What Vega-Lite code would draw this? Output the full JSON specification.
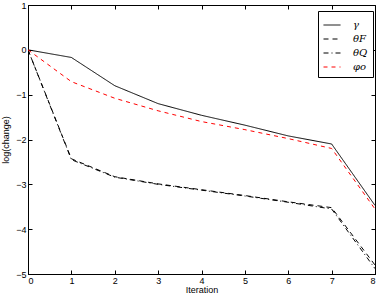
{
  "$schema": "https://vega.github.io/schema/vega-lite/v6.json",
  "width": 347,
  "height": 269,
  "autosize": {"type": "none"},
  "padding": {"left": 28, "top": 5, "right": 1, "bottom": 22},
  "background": "white",
  "config": {
    "view": {"stroke": "black", "strokeWidth": 1},
    "font": "Liberation Sans",
    "axis": {"grid": false, "domainColor": "black", "tickColor": "black", "labelColor": "black", "titleColor": "black", "labelFont": "Liberation Sans", "titleFont": "Liberation Sans", "labelFontSize": 9, "titleFontSize": 9, "titleFontWeight": "normal", "tickSize": -4, "labelPadding": 6}
  },
  "data": {
    "values": [
      {"iter": 0, "v": 0, "s": "γ"},
      {"iter": 1, "v": -0.17, "s": "γ"},
      {"iter": 2, "v": -0.8, "s": "γ"},
      {"iter": 3, "v": -1.2, "s": "γ"},
      {"iter": 4, "v": -1.46, "s": "γ"},
      {"iter": 5, "v": -1.68, "s": "γ"},
      {"iter": 6, "v": -1.92, "s": "γ"},
      {"iter": 7, "v": -2.1, "s": "γ"},
      {"iter": 8, "v": -3.47, "s": "γ"},
      {"iter": 0, "v": 0, "s": "θF"},
      {"iter": 1, "v": -2.43, "s": "θF"},
      {"iter": 2, "v": -2.83, "s": "θF"},
      {"iter": 3, "v": -2.99, "s": "θF"},
      {"iter": 4, "v": -3.12, "s": "θF"},
      {"iter": 5, "v": -3.25, "s": "θF"},
      {"iter": 6, "v": -3.39, "s": "θF"},
      {"iter": 7, "v": -3.52, "s": "θF"},
      {"iter": 8, "v": -4.8, "s": "θF"},
      {"iter": 0, "v": 0, "s": "θQ"},
      {"iter": 1, "v": -2.45, "s": "θQ"},
      {"iter": 2, "v": -2.84, "s": "θQ"},
      {"iter": 3, "v": -3.0, "s": "θQ"},
      {"iter": 4, "v": -3.13, "s": "θQ"},
      {"iter": 5, "v": -3.26, "s": "θQ"},
      {"iter": 6, "v": -3.4, "s": "θQ"},
      {"iter": 7, "v": -3.55, "s": "θQ"},
      {"iter": 8, "v": -4.88, "s": "θQ"},
      {"iter": 0, "v": 0, "s": "φo"},
      {"iter": 1, "v": -0.71, "s": "φo"},
      {"iter": 2, "v": -1.08, "s": "φo"},
      {"iter": 3, "v": -1.36, "s": "φo"},
      {"iter": 4, "v": -1.6, "s": "φo"},
      {"iter": 5, "v": -1.78, "s": "φo"},
      {"iter": 6, "v": -1.98, "s": "φo"},
      {"iter": 7, "v": -2.2, "s": "φo"},
      {"iter": 8, "v": -3.55, "s": "φo"}
    ]
  },
  "layer": [
    {
      "mark": {"type": "line", "strokeWidth": 1, "clip": true},
      "encoding": {
        "x": {"field": "iter", "type": "quantitative", "scale": {"domain": [0, 8], "nice": false, "zero": false}, "axis": {"title": "Iteration", "values": [0,1,2,3,4,5,6,7,8], "titlePadding": 0}},
        "y": {"field": "v", "type": "quantitative", "scale": {"domain": [-5, 1], "nice": false, "zero": false}, "axis": {"title": "log(change)", "values": [-5,-4,-3,-2,-1,0,1], "titlePadding": 5}},
        "color": {"field": "s", "type": "nominal", "scale": {"domain": ["γ", "θF", "θQ", "φo"], "range": ["black", "black", "black", "#ff0000"]},
          "legend": {"title": null, "orient": "none", "legendX": 290, "legendY": 6, "strokeColor": "black", "fillColor": "white", "padding": 5, "symbolType": "stroke", "symbolSize": 289, "symbolStrokeWidth": 1, "labelOffset": 12, "rowPadding": 0, "labelFont": "DejaVu Serif", "labelFontStyle": "italic", "labelFontSize": 10, "labelColor": "black", "cornerRadius": 0}},
        "strokeDash": {"field": "s", "type": "nominal", "scale": {"domain": ["γ", "θF", "θQ", "φo"], "range": [[1, 0], [5, 4], [5, 3, 1, 3], [4, 4]]},
          "legend": {"title": null}}
      }
    },
    {
      "mark": {"type": "line", "opacity": 0},
      "encoding": {
        "x": {"field": "iter", "type": "quantitative", "axis": {"orient": "top", "title": null, "labels": false, "domain": false, "values": [0,1,2,3,4,5,6,7,8]}},
        "y": {"field": "v", "type": "quantitative", "axis": {"orient": "right", "title": null, "labels": false, "domain": false, "values": [-5,-4,-3,-2,-1,0,1]}}
      }
    }
  ],
  "resolve": {"axis": {"x": "independent", "y": "independent"}}
}
